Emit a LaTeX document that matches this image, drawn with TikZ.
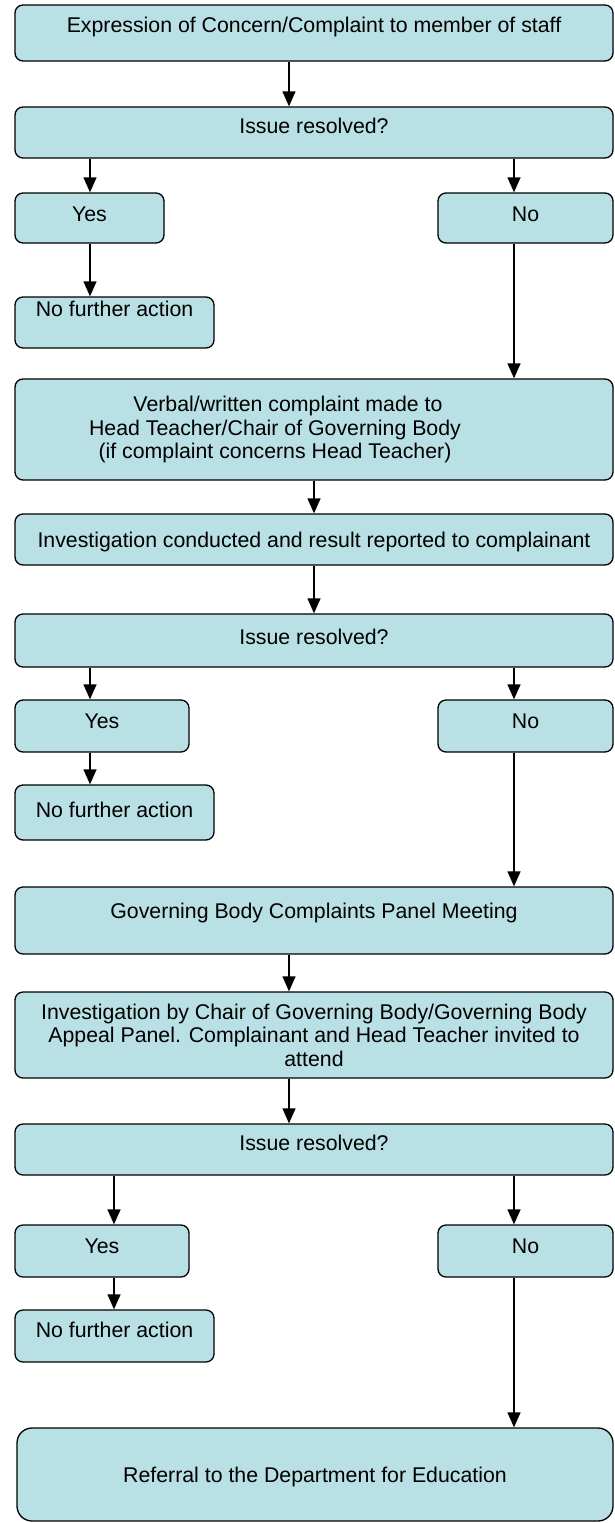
\documentclass[tikz,border=0pt]{standalone}
\usepackage{fontspec}
\setmainfont{Liberation Sans}
\usetikzlibrary{arrows.meta}
\definecolor{boxfill}{RGB}{185,224,228}
\tikzset{
	box/.style={draw=black, fill=boxfill, line width=1.3pt, rounded corners=8pt,
		inner sep=0pt, align=center, text height=15pt, font=\fontsize{21.3}{24}\selectfont},
	multibox/.style={draw=black, fill=boxfill, line width=1.3pt, rounded corners=8pt,
		inner sep=0pt, align=center, font=\fontsize{21.3}{23.5}\selectfont},
	arr/.style={-{Triangle[length=15pt,width=13pt]}, line width=1.3pt}
}
\begin{document}
\begin{tikzpicture}[x=1pt,y=-1pt]
			\useasboundingbox (0,0) rectangle (614,1523);
			% columns of the arrows
			\coordinate (cl) at (90,0);
			\coordinate (cll) at (114,0);
			\coordinate (cm) at (314,0);
			\coordinate (cn) at (289,0);
			\coordinate (cr) at (514,0);
			% first stage
			\node[box, minimum width=598, minimum height=56, text depth=16pt] (concern) at (314,33) {Expression of Concern/Complaint to member of staff};
			\node[box, minimum width=598, minimum height=51, text depth=14pt] (res1) at (314,132.5) {Issue resolved?};
			\node[box, minimum width=149, minimum height=50, text depth=9pt] (yes1) at (89.5,218) {Yes};
			\node[box, minimum width=175, minimum height=50, text depth=9pt] (no1) at (525.5,218) {No};
			\node[box, minimum width=199, minimum height=51, text depth=28pt] (nfa1) at (114.5,322.5) {No further action};
			% second stage
			\node[multibox, minimum width=598, minimum height=101] (verbal) at (314,429.5) {\hbox{Verbal/written complaint made to\hskip52pt}\\\hbox{Head Teacher/Chair of Governing Body\hskip78pt}\\\hbox{(if complaint concerns Head Teacher)\hskip78pt}};
			\node[box, minimum width=598, minimum height=51, text depth=0pt] (inv1) at (314,539.5) {Investigation conducted and result reported to complainant};
			\node[box, minimum width=598, minimum height=53, text depth=8pt] (res2) at (314,640.5) {Issue resolved?};
			\node[box, minimum width=174, minimum height=52, text depth=11pt] (yes2) at (102,726) {Yes};
			\node[box, minimum width=175, minimum height=52, text depth=11pt] (no2) at (525.5,726) {No};
			\node[box, minimum width=199, minimum height=55, text depth=6pt] (nfa2) at (114.5,812.5) {No further action};
			% third stage
			\node[box, minimum width=598, minimum height=67, text depth=19pt] (panel) at (314,920.5) {Governing Body Complaints Panel Meeting};
			\node[multibox, minimum width=598, minimum height=86, yshift=-4] (chair) at (314,1031) {Investigation by Chair of Governing Body/Governing Body\\Appeal Panel. Complainant and Head Teacher invited to\\attend};
			\node[box, minimum width=598, minimum height=51, text depth=13pt] (res3) at (314,1149.5) {Issue resolved?};
			\node[box, minimum width=174, minimum height=52, text depth=10pt] (yes3) at (102,1251) {Yes};
			\node[box, minimum width=175, minimum height=52, text depth=10pt] (no3) at (525.5,1251) {No};
			\node[box, minimum width=199, minimum height=52, text depth=12pt] (nfa3) at (114.5,1336) {No further action};
			\node[box, minimum width=596, minimum height=93, text depth=0pt, rounded corners=15pt] (dfe) at (315,1474.5) {Referral to the Department for Education};
			% connectors
			\draw[arr] (concern.south -| cn) -- (res1.north -| cn);
			\draw[arr] (res1.south -| cl) -- (yes1.north -| cl);
			\draw[arr] (res1.south -| cr) -- (no1.north -| cr);
			\draw[arr] (yes1.south -| cl) -- (nfa1.north -| cl);
			\draw[arr] (no1.south -| cr) -- (verbal.north -| cr);
			\draw[arr] (verbal.south -| cm) -- (inv1.north -| cm);
			\draw[arr] (inv1.south -| cm) -- (res2.north -| cm);
			\draw[arr] (res2.south -| cl) -- (yes2.north -| cl);
			\draw[arr] (res2.south -| cr) -- (no2.north -| cr);
			\draw[arr] (yes2.south -| cl) -- (nfa2.north -| cl);
			\draw[arr] (no2.south -| cr) -- (panel.north -| cr);
			\draw[arr] (panel.south -| cn) -- (chair.north -| cn);
			\draw[arr] (chair.south -| cn) -- (res3.north -| cn);
			\draw[arr] (res3.south -| cll) -- (yes3.north -| cll);
			\draw[arr] (res3.south -| cr) -- (no3.north -| cr);
			\draw[arr] (yes3.south -| cll) -- (nfa3.north -| cll);
			\draw[arr] (no3.south -| cr) -- (dfe.north -| cr);
\end{tikzpicture}
\end{document}
